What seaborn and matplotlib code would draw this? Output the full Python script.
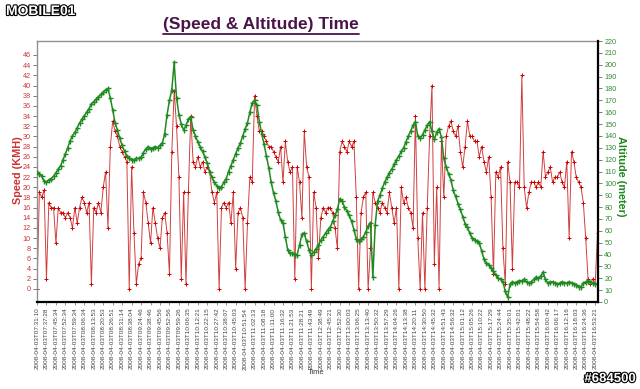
import matplotlib
matplotlib.use("Agg")
import matplotlib.pyplot as plt
import matplotlib.patheffects as pe
from matplotlib.lines import Line2D
import seaborn as sns
import numpy as np

# ---------------- data ----------------
tick_labels = [
    "2008-04-03T07:31:10", "2008-04-03T07:37:28", "2008-04-03T07:45:34", "2008-04-03T07:52:34",
    "2008-04-03T07:59:34", "2008-04-03T08:06:34", "2008-04-03T08:13:53", "2008-04-03T08:20:53",
    "2008-04-03T08:26:51", "2008-04-03T08:31:14", "2008-04-03T08:38:04", "2008-04-03T09:24:46",
    "2008-04-03T09:38:46", "2008-04-03T09:45:56", "2008-04-03T09:52:56", "2008-04-03T09:59:26",
    "2008-04-03T10:06:35", "2008-04-03T10:12:21", "2008-04-03T10:22:15", "2008-04-03T10:27:42",
    "2008-04-03T10:38:07", "2008-04-03T10:45:03", "2008-04-03T10:51:54", "2008-04-03T11:02:13",
    "2008-04-03T11:08:18", "2008-04-03T11:11:00", "2008-04-03T11:16:32", "2008-04-03T11:21:53",
    "2008-04-03T11:28:21", "2008-04-03T11:43:49", "2008-04-03T12:38:49", "2008-04-03T12:45:21",
    "2008-04-03T12:52:30", "2008-04-03T13:00:03", "2008-04-03T13:06:25", "2008-04-03T13:13:40",
    "2008-04-03T13:50:32", "2008-04-03T13:57:29", "2008-04-03T14:04:26", "2008-04-03T14:13:38",
    "2008-04-03T14:20:11", "2008-04-03T14:30:50", "2008-04-03T14:45:32", "2008-04-03T14:51:43",
    "2008-04-03T14:56:32", "2008-04-03T15:01:12", "2008-04-03T15:05:26", "2008-04-03T15:10:22",
    "2008-04-03T15:17:29", "2008-04-03T15:24:44", "2008-04-03T15:35:01", "2008-04-03T15:42:01",
    "2008-04-03T15:48:22", "2008-04-03T15:54:58", "2008-04-03T16:00:42", "2008-04-03T16:06:17",
    "2008-04-03T16:12:16", "2008-04-03T16:18:03", "2008-04-03T16:24:36", "2008-04-03T16:53:21",
]

speed = [
    0, 19, 18, 19.5, 2, 17, 16, 16, 9, 16,
    15, 15, 14, 15, 14, 12, 16, 13, 16, 18,
    17, 15, 17, 1, 16, 15, 17, 15, 20, 23,
    12, 28, 33, 31, 30, 28, 27, 26, 25, 0,
    24, 11, 1, 5, 6, 19, 17, 13, 9, 16,
    13, 10, 8, 14, 15, 11, 3, 27, 39, 32,
    22, 2, 19, 1, 19, 34, 25, 24, 26, 24,
    25, 23, 24, 23, 19, 17, 19, 0, 16, 17,
    16, 17, 13, 19, 4, 15, 16, 14, 0, 13,
    22, 21, 38, 34, 31, 31, 30, 29, 28, 28,
    27, 26, 25, 28, 21, 29, 25, 23, 24, 2,
    24, 21, 14, 31, 24, 22, 0, 19, 16, 6,
    14, 16, 15, 16, 16, 15, 12, 8, 27, 29,
    28, 27, 29, 28, 29, 18, 0, 15, 18, 19,
    0, 8, 19, 17, 16, 15, 17, 16, 15, 19,
    16, 13, 16, 0, 20, 17, 18, 16, 15, 12,
    34, 10, 0, 15, 0, 16, 30, 40, 5, 20,
    0, 29, 18, 30, 32, 33, 31, 30, 32, 27,
    24, 28, 33, 30, 30, 29, 29, 26, 28, 25,
    23, 26, 18, 3, 23, 22, 24, 8, 1, 25,
    21, 4, 21, 21, 20, 42, 20, 16, 19, 21,
    21, 20, 21, 20, 27, 22, 23, 24, 21, 22,
    22, 23, 21, 20, 25, 10, 27, 25, 22, 21,
    20, 17, 10, 2, 1, 2, 1, 11,
]

altitude = [
    110, 108, 106, 102, 101, 103, 104, 106, 109, 112,
    115, 120, 125, 130, 136, 140, 143, 147, 151, 154,
    157, 160, 163, 167, 169, 171, 173, 175, 177, 179,
    180, 172, 162, 151, 145, 138, 132, 127, 123, 121,
    120, 120, 121, 121, 122, 126, 129, 131, 129, 130,
    131, 130, 132, 134, 142, 158, 170, 179, 202, 172,
    158, 150, 145, 149, 154, 156, 145, 140, 135, 131,
    127, 122, 117, 110, 105, 101, 98, 96, 97, 101,
    104, 110, 115, 120, 125, 130, 134, 140, 146, 151,
    160, 168, 170, 166, 152, 142, 133, 123, 113, 101,
    92, 85, 76, 69, 67, 55, 44, 41, 41, 40,
    40, 48, 57, 58, 51, 44, 40, 42, 45, 48,
    52, 55, 58, 61, 63, 68, 73, 78, 87, 85,
    80, 77, 73, 68, 61, 53, 51, 53, 55, 59,
    64, 67, 21, 65, 85, 90, 96, 101, 105, 109,
    112, 116, 120, 123, 127, 130, 135, 140, 144, 149,
    152, 140, 138, 141, 145, 149, 152, 144, 137, 143,
    146, 139, 121, 114, 108, 103, 94, 89, 83, 78,
    72, 66, 63, 58, 54, 52, 51, 50, 43, 36,
    33, 31, 29, 26, 23, 20, 19, 17, 9, 4,
    15, 17, 16, 17, 18, 18, 19, 17, 16, 17,
    19, 21, 20, 22, 25, 19, 16, 17, 17, 16,
    15, 16, 17, 16, 16, 17, 16, 15, 14, 13,
    13, 16, 17, 18, 17, 16, 15, 15,
]

speed_ticks = list(range(0, 47, 2))
alt_ticks = list(range(0, 221, 10))

# ---------------- figure ----------------
sns.set_theme(style="white")
plt.rcParams["font.family"] = ["Liberation Sans", "DejaVu Sans"]

W, H = 640, 389
fig = plt.figure(figsize=(W / 100, H / 100), dpi=100)
fig.patch.set_facecolor("white")
L, R, T, B = 37, 598, 41, 302
ax = fig.add_axes([L / W, 1 - B / H, (R - L) / W, (B - T) / H])
ax2 = ax.twinx()

idx = np.arange(len(speed))
red = "#cc0000"
green = "#1f8a1f"

sns.lineplot(x=idx, y=speed, ax=ax, color="#d04040", linewidth=0.7,
             marker="+", markersize=3.2, markeredgecolor=red, markeredgewidth=0.7)
sns.lineplot(x=np.arange(len(altitude)), y=altitude, ax=ax2, color=green, linewidth=1.1,
             marker="+", markersize=3.6, markeredgecolor=green, markeredgewidth=1.0)

ax.set_xlim(0, len(speed) - 0.8)
ax.set_ylim(-2.56, 48.75)
ax2.set_ylim(0, 220)

ax.set_yticks(speed_ticks)
ax.set_yticklabels([str(v) for v in speed_ticks], fontsize=5.2, color="#cc3333")
ax2.set_yticks(alt_ticks)
ax2.set_yticklabels([str(v) for v in alt_ticks], fontsize=5.2, color="#2e8b2e")

ax.set_xticks(list(range(0, 4 * len(tick_labels), 4)))
ax.set_xticklabels(tick_labels, rotation=90, fontsize=4.6, color="#444444",
                   family=["Liberation Sans Narrow", "Liberation Sans", "DejaVu Sans"])

ax.tick_params(axis="y", which="both", left=True, length=3, width=0.6, color="#666666", pad=1.5)
ax2.tick_params(axis="y", which="both", right=True, length=3, width=0.6, color="#666666", pad=1.5)
ax.tick_params(axis="x", bottom=True, length=2, width=0.5, color="#666666", pad=2)

ax.grid(False)
ax2.grid(False)
ax.set_xlabel("")
ax.set_ylabel("")
ax2.set_ylabel("")

for s in ["top", "left"]:
    ax.spines[s].set_color("#909090")
    ax.spines[s].set_linewidth(1.0)
ax.spines["bottom"].set_color("black")
ax.spines["bottom"].set_linewidth(1.6)
ax.spines["right"].set_visible(False)
for s in ["top", "left", "bottom"]:
    ax2.spines[s].set_visible(False)
ax2.spines["right"].set_color("black")
ax2.spines["right"].set_linewidth(1.6)

# axis titles
fig.text(18 / W, 1 - 170 / H, "Speed (KMH)", rotation=90, ha="center", va="center",
         fontsize=7.8, fontweight="bold", color="#cc3333")
fig.text(621 / W, 1 - 176 / H, "Altitude (meter)", rotation=-90, ha="center", va="center",
         fontsize=7.8, fontweight="bold", color="#1f8a1f")
fig.text(316 / W, 1 - 372 / H, "Time", ha="center", va="center", fontsize=5.5, color="#333333")

# title with underline
title = fig.text(261 / W, 1 - 25 / H, "(Speed & Altitude) Time", ha="center", va="center",
                 fontsize=12.5, fontweight="bold", color="#4a1448",
                 family=["Liberation Sans Narrow", "Liberation Sans", "DejaVu Sans"])
fig.canvas.draw()
bb = title.get_window_extent().transformed(fig.transFigure.inverted())
fig.add_artist(Line2D([bb.x0, bb.x1], [bb.y0 - 0.004, bb.y0 - 0.004], transform=fig.transFigure,
                      color="#4a1448", linewidth=1.3))

# watermark-like texts
outline = [pe.withStroke(linewidth=1.6, foreground="black")]
fig.text(6 / W, 1 - 11 / H, "MOBILE01", ha="left", va="center", fontsize=10, fontweight="bold",
         color="white", path_effects=outline)
fig.text(636 / W, 1 - 379 / H, "#684500", ha="right", va="center", fontsize=9.5, fontweight="bold",
         color="white", path_effects=outline)

fig.savefig("out.png", dpi=100, facecolor="white")
